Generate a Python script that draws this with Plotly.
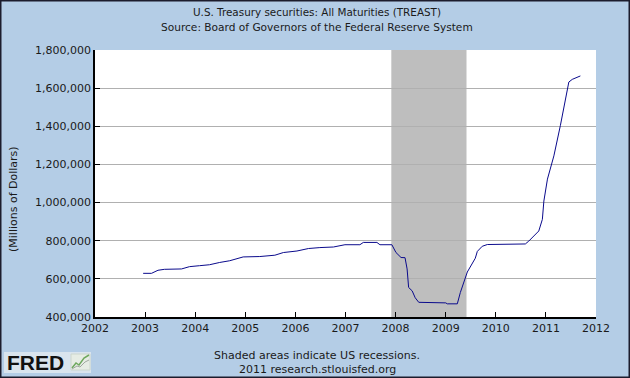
import plotly.graph_objects as go

# ---- data (Millions of Dollars) ----
dates = ["2002-12-18", "2003-02-17", "2003-04-05", "2003-05-22", "2003-09-24", "2003-11-21",
         "2004-02-02", "2004-04-15", "2004-06-28", "2004-09-09", "2004-12-16", "2005-04-16",
         "2005-08-04", "2005-10-05", "2006-01-12", "2006-04-06", "2006-06-28", "2006-10-05",
         "2006-12-28", "2007-04-16", "2007-05-11", "2007-08-18", "2007-09-09", "2007-12-05",
         "2008-01-04", "2008-02-10", "2008-03-10", "2008-03-25", "2008-04-05", "2008-05-01",
         "2008-05-23", "2008-06-18", "2009-01-01", "2009-01-12", "2009-03-26", "2009-04-17",
         "2009-06-07", "2009-08-04", "2009-08-19", "2009-09-24", "2009-10-31", "2010-08-04",
         "2010-08-29", "2010-11-10", "2010-12-06", "2010-12-17", "2011-01-12", "2011-02-28",
         "2011-04-16", "2011-05-22", "2011-06-17", "2011-07-12", "2011-09-09"]
values = [629000, 629000, 645000, 650000, 652000, 664000,
          669000, 674000, 686000, 695000, 715000, 717000,
          724000, 738000, 746000, 759000, 764000, 767000,
          779000, 779000, 791000, 791000, 779000, 779000,
          738000, 712000, 711000, 652000, 555000, 537000,
          501000, 477000, 474000, 469000, 469000, 528000,
          636000, 708000, 744000, 771000, 780000, 783000,
          798000, 851000, 912000, 1008000, 1123000, 1245000,
          1403000, 1535000, 1632000, 1646000, 1664000]
recession_start = "2007-12-01"
recession_end = "2009-06-01"
y_ticks = [400000, 600000, 800000, 1000000, 1200000, 1400000, 1600000, 1800000]
x_ticks = [f"{y}-01-01" for y in range(2002, 2013)]
x_ticklabels = [str(y) for y in range(2002, 2013)]

title_1 = "U.S. Treasury securities: All Maturities (TREAST)"
title_2 = "Source: Board of Governors of the Federal Reserve System"
y_title = "(Millions of Dollars)"
footer_1 = "Shaded areas indicate US recessions."
footer_2 = "2011 research.stlouisfed.org"

FONT = "DejaVu Sans"
BG = "#B4CDE6"

fig = go.Figure()
fig.add_trace(go.Scatter(x=dates, y=values, mode="lines",
                         line=dict(color="#0A0A8C", width=1), hoverinfo="x+y"))

fig.add_shape(type="rect", xref="x", yref="paper", x0=recession_start, x1=recession_end,
              y0=0, y1=1, fillcolor="#BEBEBE", line=dict(width=0), layer="between")

# pixel -> paper helpers
L, R, T, B = 95, 34, 50, 61
W, H = 630, 378
pw, ph = W - L - R, H - T - B
def px(xp):
    return (xp - L) / pw
def py(yp):
    return (H - B - yp) / ph

# FRED logo background + icon
fig.add_shape(type="rect", xref="paper", yref="paper", x0=px(4), x1=px(91),
              y0=py(373), y1=py(352), fillcolor="#D9E4EE", line=dict(width=0), layer="below")
fig.add_shape(type="rect", xref="paper", yref="paper", x0=px(71), x1=px(90),
              y0=py(370), y1=py(354), fillcolor="#E6ECE4", line=dict(color="#CCD6CC", width=1))
fig.add_shape(type="path", xref="paper", yref="paper",
              path=f"M {px(72)} {py(368)} L {px(76)} {py(363)} L {px(79)} {py(365)} L {px(84)} {py(358)} L {px(89)} {py(355)}",
              line=dict(color="#6EA85E", width=1.5))
fig.add_shape(type="path", xref="paper", yref="paper",
              path=f"M {px(72)} {py(369)} L {px(77)} {py(366)} L {px(80)} {py(367)} L {px(85)} {py(362)} L {px(89)} {py(360)}",
              line=dict(color="#A0A8A0", width=1))

# figure border
fig.add_shape(type="rect", xref="paper", yref="paper", x0=px(0.5), x1=px(W - 0.5),
              y0=py(0.5), y1=py(H - 0.5), line=dict(color="#1C1C2C", width=2),
              fillcolor="rgba(0,0,0,0)", layer="above")

annotations = [
    dict(text=title_1, x=px(317), y=py(12), xref="paper", yref="paper", showarrow=False,
         font=dict(family=FONT, size=10.4, color="#1A1A1A"), xanchor="center", yanchor="middle"),
    dict(text=title_2, x=px(317), y=py(27), xref="paper", yref="paper", showarrow=False,
         font=dict(family=FONT, size=10.6, color="#1A1A1A"), xanchor="center", yanchor="middle"),
    dict(text=footer_1, x=px(317), y=py(355), xref="paper", yref="paper", showarrow=False,
         font=dict(family=FONT, size=11, color="#1A1A1A"), xanchor="center", yanchor="middle"),
    dict(text=footer_2, x=px(317), y=py(369), xref="paper", yref="paper", showarrow=False,
         font=dict(family=FONT, size=11, color="#1A1A1A"), xanchor="center", yanchor="middle"),
    dict(text="<b>FRED</b>", x=px(5), y=py(362), xref="paper", yref="paper", showarrow=False,
         font=dict(family="Liberation Sans", size=21, color="#111111"), xanchor="left", yanchor="middle"),
    dict(text=y_title, x=px(13), y=py(199), xref="paper", yref="paper", showarrow=False,
         textangle=-90, font=dict(family=FONT, size=11, color="#1A1A1A"),
         xanchor="center", yanchor="middle"),
]

fig.update_layout(
    width=W, height=H, autosize=False,
    margin=dict(l=L, r=R, t=T, b=B, pad=0),
    paper_bgcolor=BG, plot_bgcolor="white",
    showlegend=False,
    annotations=annotations,
    font=dict(family=FONT, size=11, color="#1A1A1A"),
)
fig.update_xaxes(type="date", range=["2002-01-01", "2012-01-01"],
                 tickvals=x_ticks, ticktext=x_ticklabels,
                 ticks="inside", ticklen=5, tickcolor="#000", tickwidth=1,
                 showline=True, linecolor="#000", linewidth=1.5,
                 showgrid=False, zeroline=False, tickfont=dict(size=11))
fig.update_yaxes(range=[400000, 1800000], tickvals=y_ticks,
                 ticktext=[f"{v:,}" for v in y_ticks],
                 ticks="inside", ticklen=5, tickcolor="#000", tickwidth=1,
                 showline=True, linecolor="#000", linewidth=1.5,
                 showgrid=True, gridcolor="#B0B0B0", gridwidth=1, zeroline=False,
                 tickfont=dict(size=11))

fig.write_html("out.html", config={"displayModeBar": False},
               post_script="document.body.style.margin='0';document.body.style.overflow='hidden';")
